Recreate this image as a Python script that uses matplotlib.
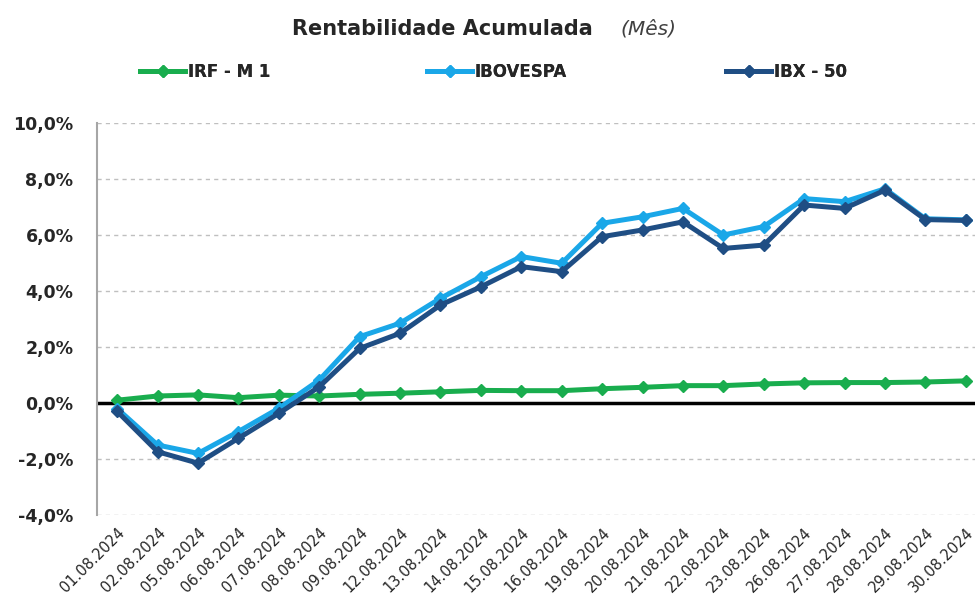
import matplotlib
matplotlib.use("Agg")
import matplotlib.pyplot as plt
from matplotlib.ticker import FuncFormatter, MultipleLocator

dates = ["01.08.2024", "02.08.2024", "05.08.2024", "06.08.2024", "07.08.2024", "08.08.2024",
         "09.08.2024", "12.08.2024", "13.08.2024", "14.08.2024", "15.08.2024", "16.08.2024",
         "19.08.2024", "20.08.2024", "21.08.2024", "22.08.2024", "23.08.2024", "26.08.2024",
         "27.08.2024", "28.08.2024", "29.08.2024", "30.08.2024"]

irf_m1 = [0.10, 0.25, 0.29, 0.19, 0.28, 0.25, 0.31, 0.35, 0.40, 0.45, 0.44, 0.44,
          0.51, 0.56, 0.62, 0.62, 0.68, 0.72, 0.73, 0.73, 0.75, 0.79]
ibovespa = [-0.20, -1.50, -1.80, -1.02, -0.19, 0.82, 2.37, 2.85, 3.74, 4.51, 5.23, 4.99,
            6.42, 6.65, 6.95, 6.00, 6.30, 7.30, 7.19, 7.65, 6.58, 6.54]
ibx50 = [-0.30, -1.74, -2.15, -1.26, -0.37, 0.58, 1.95, 2.49, 3.50, 4.15, 4.87, 4.69,
         5.94, 6.18, 6.47, 5.52, 5.64, 7.07, 6.95, 7.60, 6.55, 6.52]

plt.rcParams['font.family'] = ['DejaVu Sans']

fig = plt.figure(figsize=(9.75, 6.03), dpi=100)
ax = fig.add_axes([97/975, 1-515/603, (986-97)/975, (515-123)/603])

x = list(range(len(dates)))
c_green = "#19AD4E"
c_light = "#1AA7E8"
c_dark = "#1F4E84"

ax.axhline(0, color="black", lw=2.5, zorder=2)
l1, = ax.plot(x, irf_m1, color=c_green, lw=3.6, marker="D", ms=6.5, zorder=3, label="IRF - M 1")
l2, = ax.plot(x, ibovespa, color=c_light, lw=3.6, marker="D", ms=6.5, zorder=4, label="IBOVESPA")
l3, = ax.plot(x, ibx50, color=c_dark, lw=3.6, marker="D", ms=6.5, zorder=5, label="IBX - 50")

ax.set_xlim(-0.5, len(dates) - 0.5)
ax.set_ylim(-4, 10)
ax.yaxis.set_major_locator(MultipleLocator(2))
ax.yaxis.set_major_formatter(FuncFormatter(lambda v, p: f"{v:.1f}%".replace(".", ",")))
ax.grid(axis="y", color="#BFBFBF", ls=(0, (3, 3)), lw=1)
ax.set_axisbelow(True)
for s in ["top", "right", "bottom"]:
    ax.spines[s].set_visible(False)
ax.spines["left"].set_color("#A6A6A6")
ax.spines["left"].set_linewidth(1.5)
ax.tick_params(axis="both", length=0)
ax.tick_params(axis="y", pad=17)
for lab in ax.get_yticklabels():
    lab.set_fontweight("bold")
    lab.set_fontsize(12.5)
    lab.set_color("#262626")

ax.set_xticks(x)
ax.set_xticklabels(dates, rotation=45, ha="right", rotation_mode="anchor",
                   fontsize=10.5, color="#262626")
ax.tick_params(axis="x", pad=7)

fig.text(292/975, 1-29/603, "Rentabilidade Acumulada", ha="left", va="center",
         fontsize=15, fontweight="bold", color="#262626")
fig.text(620/975, 1-29/603, "(Mês)", ha="left", va="center",
         fontsize=14.5, fontstyle="italic", color="#404040")

# legend entries placed along the top
legend_items = [(l1, 140/975), (l2, 427/975), (l3, 726/975)]
for line, x0 in legend_items:
    lg = fig.legend(handles=[line], loc="center left", bbox_to_anchor=(x0, 1-72/603),
                    frameon=False, handlelength=2.7, handletextpad=0.15, borderpad=0,
                    borderaxespad=0, prop={"weight": "bold", "size": 12})
    for t in lg.get_texts():
        t.set_color("#262626")
    fig.add_artist(lg)

fig.savefig("out.png", dpi=100, facecolor="white")
